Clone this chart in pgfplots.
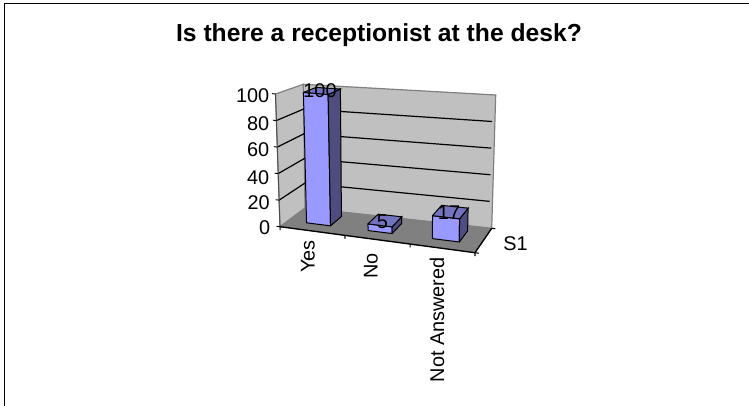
\documentclass[border=0pt]{standalone}
\usepackage{fontspec}
\setmainfont{Liberation Sans}
\usepackage{pgfplots}
\pgfplotsset{compat=1.18}
\definecolor{wall}{HTML}{C0C0C0}
\definecolor{floorc}{HTML}{808080}
\definecolor{front}{HTML}{9999FF}
\definecolor{sidec}{HTML}{4D4D80}
\definecolor{topc}{HTML}{7373BF}
% one face or line: rows are u (along the categories), v (depth), w (value 0-100)
\newcommand\pplot[2]{\addplot[#1] table[row sep=\\,
   x expr={PX(\thisrow{u},\thisrow{v},\thisrow{w})},
   y expr={PY(\thisrow{u},\thisrow{v},\thisrow{w})}] {u v w\\ #2};}
\newcommand\drawbar[5]{% u0 u1 v0 v1 value
  \pplot{fill=front,draw=black,line width=0.75pt}{#1 #3 0\\ #2 #3 0\\ #2 #3 #5\\ #1 #3 #5\\ #1 #3 0\\}
  \pplot{fill=sidec,draw=black,line width=0.75pt}{#2 #3 0\\ #2 #4 0\\ #2 #4 #5\\ #2 #3 #5\\ #2 #3 0\\}
  \pplot{fill=topc,draw=black,line width=0.75pt}{#1 #3 #5\\ #2 #3 #5\\ #2 #4 #5\\ #1 #4 #5\\ #1 #3 #5\\}
}
\newcommand\gridl[1]{%
  \pplot{black,line width=0.9pt}{0 0 #1\\ 0 1 #1\\ 0.985 1 #1\\}
}
\newcommand\wtick[1]{\pplot{black,line width=0.7pt}{0 0 #1\\ -0.018 0 #1\\}}
\newcommand\utick[1]{\pplot{black,line width=0.8pt}{#1 0 0\\ #1 0 -2.5\\}}
\begin{document}
\begin{tikzpicture}
\begin{axis}[
  name=ax,
  scale only axis, width=561.75pt, height=304.5pt,
  xmin=0, xmax=749, ymin=0, ymax=406, y dir=reverse,
  hide axis, clip=false,
  declare function={
    PX(\u,\v,\w)=(1-\w/100)*((1-\v)*((1-\u)*280+\u*475)+\v*((1-\u)*305+\u*491.7))
                 +\w/100*((1-\v)*((1-\u)*275.5+\u*475.5)+\v*((1-\u)*303.3+\u*495.7));
    PY(\u,\v,\w)=(1-\w/100)*((1-\v)*((1-\u)*226.7+\u*252.7)+\v*((1-\u)*208+\u*228.3))
                 +\w/100*((1-\v)*((1-\u)*94+\u*114)+\v*((1-\u)*84.3+\u*95));
  },
]
% chart frame
\addplot[black,line width=1.3pt] coordinates {(4.5,406) (4.5,3.5) (749,3.5)};
% walls and floor
\pplot{fill=wall,draw=floorc,line width=0.9pt}{0 1 0\\ 1 1 0\\ 1 1 100\\ 0 1 100\\ 0 1 0\\}
\pplot{fill=wall,draw=floorc,line width=0.9pt}{0 0 0\\ 0 1 0\\ 0 1 100\\ 0 0 100\\ 0 0 0\\}
\pplot{fill=floorc,draw=floorc,line width=0.5pt}{0 0 0\\ 1 0 0\\ 1 1 0\\ 0 1 0\\ 0 0 0\\}
% gridlines
\gridl{20}\gridl{40}\gridl{60}\gridl{80}
% axes
\pplot{black,line width=1pt}{0 0 0\\ 1 0 0\\ 1 1 0\\}
\pplot{black!70,line width=0.7pt}{0 0 0\\ 0 0 100\\}
\wtick{0}\wtick{20}\wtick{40}\wtick{60}\wtick{80}\wtick{100}
\utick{0}\utick{0.333}\utick{0.667}\utick{1}
\pplot{black,line width=0.8pt}{1 0 0\\ 1.02 0 0\\}
\pplot{black,line width=0.8pt}{1 1 0\\ 1.02 1 0\\}
% bars
\drawbar{0.095}{0.22}{0.33}{0.8}{100}
\drawbar{0.415}{0.54}{0.33}{0.8}{5}
\drawbar{0.75}{0.89}{0.33}{0.8}{17}
% texts
\node[font=\fontsize{18.5}{20}\selectfont\bfseries] at (axis cs:379,35) {Is there a receptionist at the desk?};
\def\tl{\fontsize{14.9}{16}\selectfont}
\node[font=\tl,anchor=east,inner sep=0pt] at (axis cs:269.5,95.5) {100};
\node[font=\tl,anchor=east,inner sep=0pt] at (axis cs:269.5,123.5) {80};
\node[font=\tl,anchor=east,inner sep=0pt] at (axis cs:269.5,150) {60};
\node[font=\tl,anchor=east,inner sep=0pt] at (axis cs:269.5,177.5) {40};
\node[font=\tl,anchor=east,inner sep=0pt] at (axis cs:270,203) {20};
\node[font=\tl,anchor=east,inner sep=0pt] at (axis cs:270.5,228) {0};
\node[font=\tl,rotate=90,anchor=east,inner sep=0pt] at (axis cs:308,240) {Yes};
\node[font=\tl,rotate=90,anchor=east,inner sep=0pt] at (axis cs:371,253) {No};
\node[font=\tl,rotate=90,anchor=east,inner sep=0pt] at (axis cs:437,257) {Not Answered};
\node[font=\tl,anchor=west,inner sep=0pt] at (axis cs:503,244) {S1};
\node[font=\tl,inner sep=0pt] at (axis cs:320,91) {100};
\node[font=\tl,inner sep=0pt] at (axis cs:382.3,222) {5};
\node[font=\tl,inner sep=0pt] at (axis cs:449,213) {17};
\end{axis}
\pgfresetboundingbox
\useasboundingbox (ax.south west) rectangle (ax.north east);
\end{tikzpicture}
\end{document}
